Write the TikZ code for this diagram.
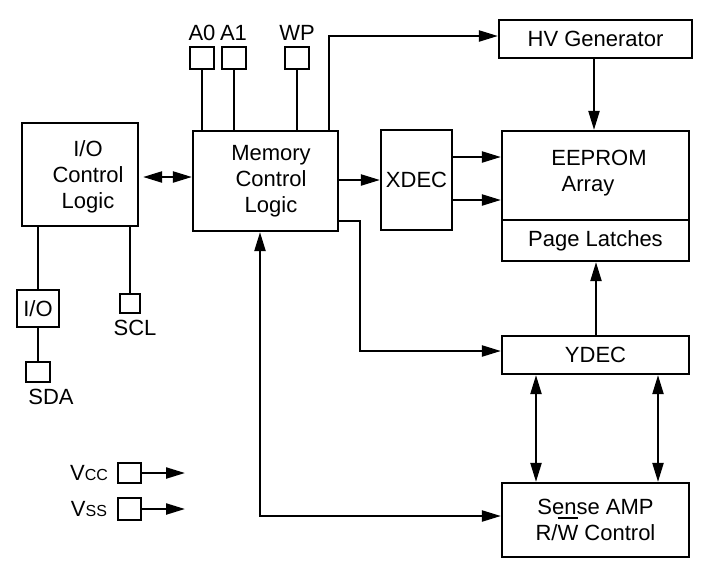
\documentclass[tikz,border=0pt]{standalone}
\usepackage{fontspec}
\setmainfont{Liberation Sans}
\usetikzlibrary{arrows.meta}
\begin{document}
\begin{tikzpicture}[x=1pt,y=-1pt,line width=2.2pt,
  box/.style={draw,rectangle,inner sep=0pt,align=center,font=\fontsize{22}{26}\selectfont},
  pin/.style={draw,rectangle,inner sep=0pt},
  lbl/.style={inner sep=0pt,align=center,font=\fontsize{22}{26}\selectfont},
  arr/.style={-{Triangle[length=19pt,width=11pt]}},
  darr/.style={{Triangle[length=19pt,width=11pt]}-{Triangle[length=19pt,width=11pt]}}]
\useasboundingbox (0,0) rectangle (709,579);
% main blocks
\node[box,minimum width=116pt,minimum height=103pt] (ioc) at (80,174.5) {};
\node[lbl] (ioct) at (88,177) {I/O\\Control\\Logic};
\node[box,minimum width=145pt,minimum height=100pt] (mem) at (265.5,181) {};
\node[lbl] (memt) at (271,181) {Memory\\Control\\Logic};
\node[box,minimum width=71pt,minimum height=100pt] (xdec) at (416.5,180) {XDEC};
\node[box,minimum width=193pt,minimum height=38pt] (hv) at (595.5,39) {HV Generator};
\node[box,minimum width=187pt,minimum height=89pt] (ee) at (595.5,175.5) {};
\node[lbl] (eet) at (599,173.5) {EEPROM\\Array\makebox[22pt]{}};
\node[box,minimum width=187pt,minimum height=41pt] (pl) at (595.5,240.5) {Page Latches};
\node[box,minimum width=187pt,minimum height=38pt] (ydec) at (595.5,355) {YDEC};
\node[box,minimum width=187pt,minimum height=74pt] (sense) at (595.5,520) {Sense AMP\\R/\rlap{\raisebox{1.0em}{\rule{0.92em}{1.1pt}}}W Control};
% pins
\node[pin,minimum width=24pt,minimum height=22pt] (a0) at (202,58) {};
\node[pin,minimum width=24pt,minimum height=22pt] (a1) at (234,58) {};
\node[pin,minimum width=24pt,minimum height=22pt] (wp) at (297,58) {};
\node[lbl] (a0l) at (202,33) {A0};
\node[lbl] (a1l) at (233.5,33) {A1};
\node[lbl] (wpl) at (297,33) {WP};
\node[box,minimum width=42pt,minimum height=37pt] (ios) at (38,308.5) {I/O};
\node[pin,minimum width=24pt,minimum height=20pt] (sda) at (38,372) {};
\node[lbl] (sdal) at (51,397) {SDA};
\node[pin,minimum width=20pt,minimum height=19pt] (scl) at (130,303.5) {};
\node[lbl] (scll) at (135,328) {SCL};
\node[pin,minimum width=23pt,minimum height=20pt] (vcc) at (129.5,473) {};
\node[lbl] (vccl) at (89,473) {V{\fontsize{16}{16}\selectfont CC}};
\node[pin,minimum width=23pt,minimum height=22pt] (vss) at (129.5,509) {};
\node[lbl] (vssl) at (89,509) {V{\fontsize{16}{16}\selectfont SS}};
\coordinate (vcce) at (185,473);
\coordinate (vsse) at (185,509);
\coordinate (bend) at (360,351);
% connectors
\draw (a0) -- (a0 |- mem.north);
\draw (a1) -- (a1 |- mem.north);
\draw (wp) -- (wp |- mem.north);
\draw[arr] ([xshift=63.5pt]mem.north) |- ([yshift=3pt]hv.west);
\draw[darr,shorten <=4pt] (ioc.east |- 0,177) -- (mem.west |- 0,177);
\draw[arr] (mem.east |- 0,180) -- (xdec.west |- 0,180);
\draw[arr] (xdec.east |- 0,157) -- (ee.west |- 0,157);
\draw[arr] (xdec.east |- 0,200) -- (ee.west |- 0,200);
\draw[arr] (hv.south -| 594,0) -- (ee.north -| 594,0);
\draw[arr] (mem.east |- 0,221) -| (bend) -- (ydec.west |- bend);
\draw[arr] (ydec.north -| 596,0) -- (pl.south -| 596,0);
\draw[darr] (ydec.south -| 536,0) -- (sense.north -| 536,0);
\draw[darr] (ydec.south -| 658,0) -- (sense.north -| 658,0);
\draw[darr] (mem.south -| 260,0) |- (sense.west |- 0,516);
\draw (ioc.south -| ios.north) -- (ios.north);
\draw (ios) -- (sda);
\draw (ioc.south -| scl.north) -- (scl.north);
\draw[arr] (vcc.east) -- (vcce);
\draw[arr] (vss.east) -- (vsse);
\end{tikzpicture}
\end{document}
